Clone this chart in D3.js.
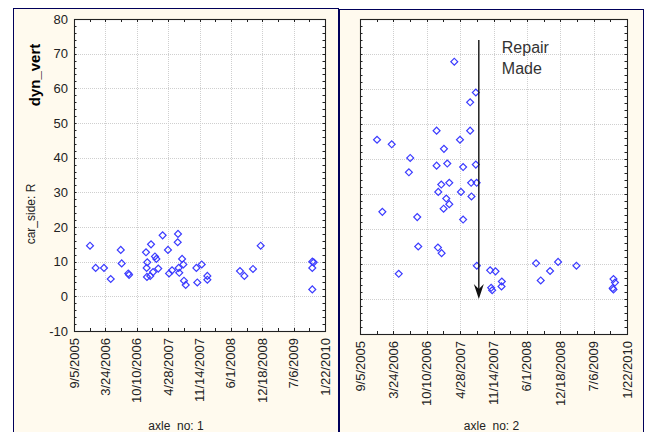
<!DOCTYPE html>
<html>
<head>
<meta charset="utf-8">
<script src="https://cdn.jsdelivr.net/npm/d3@7"></script>
<style>
  body { margin: 0; background: #fff; }
  text { font-family: "Liberation Sans", Arial, sans-serif; fill: #222; }
  .grid { stroke: #cfcfcf; stroke-dasharray: 1,1; }
  .tick { stroke: #222; }
  .pt { fill: none; stroke: #3c3cff; stroke-width: 1.2; }
</style>
</head>
<body>
<div id="chartArea"></div>
<script>
// tick labels on the date axis (200 days apart)
var xTickLabels = ['9/5/2005', '3/24/2006', '10/10/2006', '4/28/2007', '11/14/2007',
                   '6/1/2008', '12/18/2008', '7/6/2009', '1/22/2010'];
var yTicks = [-10, 0, 10, 20, 30, 40, 50, 60, 70, 80];

// axle_no: 1
var axle1Dates = ['2005-12-16', '2006-01-21', '2006-03-15', '2006-04-27', '2006-06-30', '2006-07-06',
    '2006-08-17', '2006-08-22', '2006-12-08', '2007-01-09', '2006-12-16', '2006-12-12', '2006-12-14',
    '2007-01-04', '2007-01-22', '2007-02-03', '2007-02-12', '2007-02-24', '2007-03-24', '2007-04-27',
    '2007-05-04', '2007-05-23', '2007-06-30', '2007-06-28', '2007-07-26', '2007-08-03', '2007-07-04',
    '2007-07-08', '2007-08-07', '2007-08-18', '2007-10-25', '2007-11-28', '2007-10-31', '2008-01-03',
    '2008-01-03', '2008-07-29', '2008-08-26', '2008-10-20', '2008-12-08', '2009-11-02', '2009-11-11',
    '2009-11-02', '2009-11-02'];
var axle1Values = [14.6, 8.2, 8.2, 5.0, 13.4, 9.5,
    6.6, 6.2, 12.7, 15.0, 9.8, 8.2, 5.6,
    5.9, 7.0, 11.5, 10.8, 8.0, 17.6, 13.4,
    6.6, 7.5, 18.0, 15.6, 10.8, 9.2, 8.2,
    6.8, 4.5, 3.3, 8.2, 9.2, 4.0, 5.9,
    4.8, 7.3, 5.9, 7.9, 14.6, 10.0, 9.8,
    8.2, 2.0];

// axle_no: 2
var axle2Dates = ['2007-03-24', '2007-07-31', '2007-06-27', '2006-12-08', '2007-06-27', '2005-12-16',
    '2006-03-14', '2007-04-27', '2007-01-21', '2006-07-03', '2006-06-25', '2006-12-08', '2007-02-10',
    '2007-05-16', '2007-07-31', '2007-01-05', '2007-02-22', '2006-12-18', '2007-05-03', '2007-07-03',
    '2007-08-05', '2007-07-05', '2007-02-04', '2007-02-22', '2007-01-19', '2006-01-17', '2006-08-14',
    '2007-05-16', '2006-08-20', '2006-12-16', '2007-01-07', '2006-04-25', '2007-08-06', '2007-10-25',
    '2007-11-26', '2008-01-03', '2008-01-01', '2007-10-31', '2007-11-06', '2008-07-26', '2008-08-23',
    '2008-10-18', '2008-12-05', '2009-03-25', '2009-11-02', '2009-11-11', '2009-10-28', '2009-11-02'];
var axle2Values = [67.8, 59.0, 56.2, 48.1, 48.1, 45.5,
    44.2, 45.5, 42.9, 40.3, 36.2, 38.1, 38.7,
    37.7, 38.4, 32.7, 33.2, 30.6, 30.6, 33.2,
    33.2, 29.3, 28.7, 27.1, 25.8, 24.9, 23.4,
    22.7, 15.0, 14.7, 13.1, 7.2, 9.5, 8.2,
    7.9, 5.0, 3.6, 3.2, 2.5, 10.2, 5.3,
    8.0, 10.6, 9.5, 5.7, 4.7, 3.1, 2.7];

var repairDate = '2007-08-18';
var repairRange = [74, 0];

var parseIso = d3.timeParse('%Y-%m-%d');
var parseTick = d3.timeParse('%m/%d/%Y');
var tickDates = xTickLabels.map(parseTick);

var svg = d3.select('#chartArea').append('svg')
    .attr('width', 647)
    .attr('height', 432);

var panels = [
    { frame: [13.5, 8.5, 325, 440], left: 74, right: 325, top: 19, bottom: 331,
      dates: axle1Dates, values: axle1Values, title: 'axle_no: 1', yLabels: true },
    { frame: [339.5, 9.5, 304, 440], left: 360, right: 627, top: 19, bottom: 334,
      dates: axle2Dates, values: axle2Values, title: 'axle_no: 2', yLabels: false }
];

panels.forEach(function(p) {
    svg.append('rect')
        .attr('x', p.frame[0]).attr('y', p.frame[1])
        .attr('width', p.frame[2]).attr('height', p.frame[3])
        .attr('fill', '#fffaee')
        .attr('stroke', '#00005a');

    var x = d3.scaleTime()
        .domain([tickDates[0], tickDates[tickDates.length - 1]])
        .range([p.left, p.right]);
    var y = d3.scaleLinear()
        .domain([-10, 80])
        .range([p.bottom, p.top]);

    var g = svg.append('g');

    g.append('rect')
        .attr('x', p.left).attr('y', p.top)
        .attr('width', p.right - p.left).attr('height', p.bottom - p.top)
        .attr('fill', '#fff');

    // grid
    g.selectAll('.gx')
        .data(tickDates.slice(1, -1))
        .enter().append('line')
        .attr('class', 'grid')
        .attr('x1', function(d) { return Math.round(x(d)) + 0.5; })
        .attr('x2', function(d) { return Math.round(x(d)) + 0.5; })
        .attr('y1', p.top).attr('y2', p.bottom);
    g.selectAll('.gy')
        .data(yTicks.slice(1, -1))
        .enter().append('line')
        .attr('class', 'grid')
        .attr('y1', function(d) { return Math.round(y(d)) + 0.5; })
        .attr('y2', function(d) { return Math.round(y(d)) + 0.5; })
        .attr('x1', p.left).attr('x2', p.right);

    // inner ticks on all four sides
    var xMinor = [];
    for (var i = 0; i < tickDates.length - 1; i++) {
        xMinor.push(tickDates[i]);
        xMinor.push(new Date((+tickDates[i] + +tickDates[i + 1]) / 2));
    }
    var yMinor = d3.range(-10, 81, 2);
    xMinor.forEach(function(d) {
        var xx = Math.round(x(d)) + 0.5;
        g.append('line').attr('class', 'tick').attr('x1', xx).attr('x2', xx)
            .attr('y1', p.top).attr('y2', p.top + 3);
        g.append('line').attr('class', 'tick').attr('x1', xx).attr('x2', xx)
            .attr('y1', p.bottom).attr('y2', p.bottom - 3);
    });
    yMinor.forEach(function(d) {
        var yy = Math.round(y(d)) + 0.5;
        g.append('line').attr('class', 'tick').attr('y1', yy).attr('y2', yy)
            .attr('x1', p.left).attr('x2', p.left + 2.5);
        g.append('line').attr('class', 'tick').attr('y1', yy).attr('y2', yy)
            .attr('x1', p.right).attr('x2', p.right - 2.5);
    });

    g.append('rect')
        .attr('x', p.left + 0.5).attr('y', p.top + 0.5)
        .attr('width', p.right - p.left).attr('height', p.bottom - p.top)
        .attr('fill', 'none')
        .attr('stroke', '#222')
        .attr('stroke-width', 1.1);

    // x labels
    g.selectAll('.xl')
        .data(tickDates)
        .enter().append('text')
        .attr('transform', function(d, i) {
            return 'translate(' + (x(d) + 4.5) + ',' + (p.bottom + 7) + ') rotate(-90)';
        })
        .attr('text-anchor', 'end')
        .style('font-size', '13px')
        .text(function(d, i) { return xTickLabels[i]; });

    if (p.yLabels) {
        g.selectAll('.yl')
            .data(yTicks)
            .enter().append('text')
            .attr('x', p.left - 6)
            .attr('y', function(d) { return y(d) + 4.5; })
            .attr('text-anchor', 'end')
            .style('font-size', '13px')
            .text(function(d) { return d; });
    }

    g.append('text')
        .attr('x', p.frame[0] + p.frame[2] / 2)
        .attr('y', 430)
        .attr('text-anchor', 'middle')
        .style('font-size', '12px')
        .text(p.title);

    var pts = p.dates.map(function(d, i) { return { date: parseIso(d), value: p.values[i] }; });
    g.selectAll('.pt')
        .data(pts)
        .enter().append('path')
        .attr('class', 'pt')
        .attr('d', d3.symbol().type(d3.symbolSquare).size(24))
        .attr('transform', function(d) {
            return 'translate(' + x(d.date) + ',' + y(d.value) + ') rotate(45)';
        });

    p.x = x;
    p.y = y;
});

// side titles for the left panel
svg.append('text')
    .attr('transform', 'translate(40,75) rotate(-90)')
    .attr('text-anchor', 'middle')
    .style('font-size', '15px')
    .style('font-weight', 'bold')
    .style('fill', '#000')
    .text('dyn_vert');
svg.append('text')
    .attr('transform', 'translate(35,214) rotate(-90)')
    .attr('text-anchor', 'middle')
    .style('font-size', '12px')
    .text('car_side: R');

// repair arrow in the second panel
var rp = panels[1];
var rx = rp.x(parseIso(repairDate));
var yTop = rp.y(repairRange[0]), yTip = rp.y(repairRange[1]);
svg.append('line')
    .attr('x1', rx).attr('x2', rx)
    .attr('y1', yTop).attr('y2', yTip - 6)
    .attr('stroke', '#111')
    .attr('stroke-width', 1.4);
svg.append('path')
    .attr('d', 'M' + rx + ',' + yTip + 'L' + (rx - 5) + ',' + (yTip - 15) +
        'L' + rx + ',' + (yTip - 10) + 'L' + (rx + 5) + ',' + (yTip - 15) + 'Z')
    .attr('fill', '#111');
svg.append('text')
    .attr('x', rx + 23).attr('y', 53)
    .style('font-size', '16px')
    .style('fill', '#333')
    .text('Repair');
svg.append('text')
    .attr('x', rx + 23).attr('y', 74)
    .style('font-size', '16px')
    .style('fill', '#333')
    .text('Made');
</script>
</body>
</html>
